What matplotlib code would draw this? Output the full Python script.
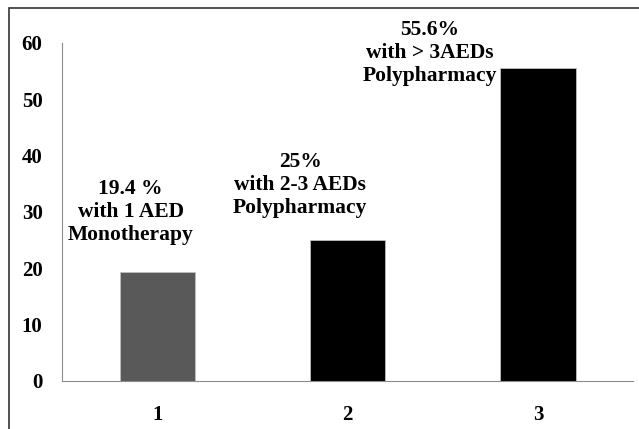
import matplotlib
matplotlib.use("Agg")
import matplotlib.pyplot as plt
from matplotlib.patches import Rectangle

## data
groups = ["1", "2", "3"]
percent = [19.4, 25.0, 55.6]
bar_colors = ["#595959", "#000000", "#000000"]
notes = ["19.4 %\nwith 1 AED\nMonotherapy",
         "25%\nwith 2-3 AEDs\nPolypharmacy",
         "55.6%\nwith > 3AEDs\nPolypharmacy"]
yticks = [0, 10, 20, 30, 40, 50, 60]

plt.rcParams["font.family"] = ["Liberation Serif", "DejaVu Serif"]
plt.rcParams["font.weight"] = "bold"

fig = plt.figure(figsize=(6.39, 4.29), dpi=100)
ax = fig.add_axes([0.097, 0.112, 0.894, 0.788])

x = list(range(len(groups)))
ax.bar(x, percent, width=0.395, color=bar_colors, edgecolor="#bfbfbf",
       linewidth=0.6)

## notes sit to the upper left of each bar
note_x = [-0.14, 0.75, 1.43]
note_y = [30.0, 34.8, 58.2]
for nx, ny, txt in zip(note_x, note_y, notes):
    ax.text(nx, ny, txt, ha="center", va="center", fontsize=15.5,
            fontweight="bold", linespacing=1.22, clip_on=False)

ax.set_xlim(-0.5, 2.5)
ax.set_ylim(0, 60)
ax.set_xticks(x)
ax.set_xticklabels(groups, fontsize=15, fontweight="bold")
ax.set_yticks(yticks)
ax.set_yticklabels([str(v) for v in yticks], fontsize=15, fontweight="bold")
ax.tick_params(length=0)
ax.tick_params(axis="y", pad=14)
ax.tick_params(axis="x", pad=17)

for side in ["top", "right"]:
    ax.spines[side].set_visible(False)
ax.spines["left"].set_color("#8c8c8c")
ax.spines["bottom"].set_color("#8c8c8c")

## frame round the picture (only left and top show)
fig.patches.append(Rectangle((9 / 639, -0.1), 1.2, 1 - 8 / 429 + 0.1,
                             transform=fig.transFigure, fill=False,
                             edgecolor="#333333", linewidth=1.2))

fig.savefig("out.png", dpi=100)
